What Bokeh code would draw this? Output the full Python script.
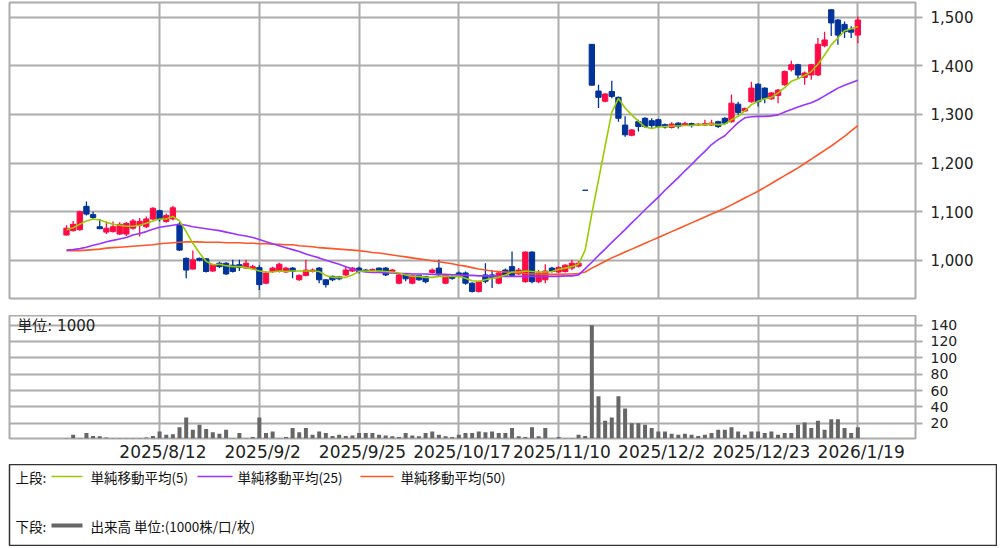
from bokeh.plotting import figure
from bokeh.layouts import column
from bokeh.models import Range1d, FixedTicker, NumeralTickFormatter, Label, ColumnDataSource
from bokeh.embed import file_html
from bokeh.resources import INLINE
from bokeh.core.properties import value

opens = [1052,1061,1063,1111,1094,1069,1058,1059,1054,1054,
 1066,1072,1069,1085,1102,1080,1085,1074,1004,982,
 1004,1003,978,994,994,990,991,984,983,985,
 953,977,977,976,984,960,969,977,984,960,
 967,966,970,978,984,980,979,984,984,977,
 953,970,953,969,967,975,984,953,967,974,
 974,953,936,970,970,953,980,987,972,956,
 1017,956,960,984,976,977,984,988,1144,1444,
 1348,1327,1347,1335,1278,1257,1285,1292,1287,1289,
 1279,1273,1282,1278,1281,1278,1278,1278,1285,1292,
 1285,1321,1307,1326,1362,1354,1332,1339,1361,1392,
 1402,1376,1381,1381,1441,1515,1494,1485,1474,1463]
highs = [1072,1081,1102,1121,1100,1085,1080,1080,1078,1079,
 1085,1087,1090,1109,1104,1096,1112,1078,1006,1020,
 1006,1004,993,997,996,1001,1001,1001,991,990,
 977,987,995,987,986,971,1001,983,986,961,
 969,968,987,986,987,982,983,985,986,982,
 972,974,970,970,968,983,1001,971,970,977,
 977,955,958,994,980,977,983,1018,984,1018,
 1018,980,992,987,988,992,1001,998,1144,1444,
 1361,1343,1369,1337,1296,1270,1289,1294,1292,1291,
 1281,1284,1284,1285,1283,1282,1289,1289,1287,1294,
 1341,1326,1314,1367,1364,1356,1346,1352,1390,1410,
 1404,1388,1404,1457,1470,1516,1496,1491,1481,1501]
lows = [1051,1059,1061,1092,1083,1064,1054,1057,1052,1050,
 1063,1049,1066,1083,1080,1077,1082,1019,963,981,
 998,975,976,984,970,975,978,982,981,939,
 951,974,975,974,963,958,967,975,953,944,
 957,959,968,976,973,976,977,977,968,975,
 951,957,951,958,953,973,968,951,960,965,
 950,934,934,953,943,951,968,967,970,954,
 953,953,953,975,974,975,980,985,1144,1360,
 1313,1325,1333,1285,1254,1255,1265,1272,1272,1272,
 1271,1271,1271,1276,1273,1276,1276,1276,1272,1280,
 1283,1299,1305,1324,1316,1323,1330,1323,1359,1388,
 1374,1361,1371,1379,1438,1461,1443,1457,1457,1446]
closes = [1066,1074,1100,1095,1088,1065,1066,1069,1074,1076,
 1081,1080,1085,1107,1085,1092,1108,1021,980,1001,
 1000,977,991,987,972,977,985,994,987,950,
 974,984,992,984,977,969,980,980,960,950,
 960,962,980,984,977,978,981,978,970,980,
 970,962,969,960,956,980,970,969,963,968,
 953,936,956,957,965,974,970,969,980,1017,
 956,974,978,977,985,990,994,994,1144,1360,
 1335,1342,1337,1292,1258,1268,1275,1275,1277,1275,
 1274,1280,1275,1281,1277,1280,1281,1282,1275,1282,
 1323,1304,1312,1354,1326,1333,1344,1350,1388,1402,
 1381,1385,1402,1444,1453,1488,1463,1470,1469,1494]
ma5 = [1063,1067,1074,1081,1085,1083,1078,1074,1072,1070,
 1070,1072,1076,1081,1085,1085,1090,1081,1059,1035,
 1015,998,991,992,989,987,987,985,982,978,
 976,976,978,977,978,978,978,978,977,969,
 965,965,965,970,977,978,978,978,977,976,
 974,970,967,967,965,965,967,967,967,967,
 963,958,957,960,963,965,970,976,976,978,
 977,976,976,977,981,984,987,992,1021,1096,
 1165,1235,1304,1333,1313,1299,1286,1274,1271,1274,
 1275,1276,1276,1277,1277,1279,1279,1280,1279,1280,
 1289,1296,1307,1320,1327,1332,1335,1344,1355,1368,
 1373,1380,1388,1403,1422,1443,1457,1472,1476,1480]
ma25 = [1021,1022,1024,1027,1031,1034,1038,1041,1044,1047,
 1052,1055,1059,1064,1068,1070,1072,1074,1072,1069,
 1067,1065,1063,1061,1058,1055,1052,1050,1047,1043,
 1038,1034,1030,1026,1022,1018,1013,1009,1005,1000,
 996,992,987,982,978,976,975,975,974,974,
 973,973,972,972,972,971,971,971,970,970,
 969,969,968,968,968,967,967,967,967,967,
 967,967,967,967,967,968,968,970,983,996,
 1010,1023,1037,1050,1063,1077,1090,1104,1117,1130,
 1144,1157,1170,1184,1197,1211,1224,1238,1248,1256,
 1270,1283,1293,1295,1296,1296,1297,1299,1305,1310,
 1315,1320,1324,1330,1338,1346,1354,1360,1365,1370]
ma50 = [1020,1020,1020,1021,1022,1023,1025,1026,1027,1028,
 1029,1030,1031,1032,1034,1035,1036,1037,1038,1038,
 1038,1037,1037,1037,1036,1036,1036,1035,1035,1034,
 1034,1033,1033,1032,1032,1030,1029,1028,1026,1025,
 1024,1023,1022,1021,1020,1018,1016,1015,1013,1011,
 1009,1007,1005,1003,1001,999,997,995,993,990,
 988,985,982,980,978,977,976,975,974,973,
 972,972,971,971,971,972,972,973,976,984,
 991,998,1005,1011,1017,1023,1029,1035,1041,1047,
 1053,1059,1065,1071,1077,1083,1089,1095,1101,1107,
 1114,1121,1128,1135,1142,1150,1158,1166,1174,1182,
 1190,1199,1208,1217,1226,1235,1245,1255,1266,1277]
volume = [2,6,2,8,4.5,4,2.5,2,2,2,
 2,2,2.5,4.5,10,6,6.5,15,27,12,
 18,13,9,7,12,2,8,2,3,27,
 8,10,2,3,14,9,14,6,10,8,
 4.5,6,4.5,5,8,8,8,6,5,4,
 3,8,5,4,8,10,6,4,3,6,
 8,8,10,9,10,8,8,14,4,3,
 15,4,14,2,3,2,2,6,4.5,140,
 53,23,27,53,38,20,20,18,14,10,
 10,7,6,7,6,4.5,6,8,12,12,
 15,10,6,10,10,8,10,6,8,8,
 18,21,14,23,12,25,25,14,8,15]

tick_idx = [14, 29, 44, 59, 74, 89, 104, 119]
tick_labels = ["2025/8/12", "2025/9/2", "2025/9/25", "2025/10/17",
               "2025/11/10", "2025/12/2", "2025/12/23", "2026/1/19"]
price_ticks = [1000, 1100, 1200, 1300, 1400, 1500]
vol_ticks = [20, 40, 60, 80, 100, 120, 140]

legend_upper = ["単純移動平均(5)", "単純移動平均(25)", "単純移動平均(50)"]
legend_lower = "出来高 単位:(1000株/口/枚)"

UP = "#ff0a46"
DOWN = "#003399"
GRID = "#acacac"
C5, C25, C50 = "#99cc00", "#9933ff", "#ff5527"
FONT = "DejaVu Sans"
JFONT = "Noto Sans CJK JP"
MIXFONT = "DejaVu Sans, Noto Sans CJK JP"

idx = list(range(len(closes)))
colors = [UP if c > o else DOWN for o, c in zip(opens, closes)]
src = ColumnDataSource(dict(
    x=idx, top=[max(o, c) for o, c in zip(opens, closes)],
    bottom=[min(o, c) for o, c in zip(opens, closes)],
    high=highs, low=lows, color=colors, vol=volume,
    ma5=ma5, ma25=ma25, ma50=ma50))

xr = Range1d(-8.57, 127.67)

def style_common(p):
    p.background_fill_color = "white"
    p.border_fill_color = "white"
    p.outline_line_color = GRID
    p.outline_line_width = 2
    for g in (p.xgrid, p.ygrid):
        g.grid_line_color = GRID
        g.grid_line_width = 2

def style_yaxis(a, size):
    a.axis_line_color = None
    a.major_tick_out = 7
    a.major_tick_in = 0
    a.major_tick_line_color = GRID
    a.major_tick_line_width = 2
    a.minor_tick_line_color = None
    a.major_label_standoff = 8
    a.major_label_text_font = FONT
    a.major_label_text_font_size = size
    a.major_label_text_color = "#222222"

# ---- price panel
p1 = figure(frame_width=906, frame_height=296, x_range=xr, y_range=Range1d(921.5, 1530),
            y_axis_location="right", x_axis_location=None,
            output_backend="svg", toolbar_location=None,
            min_border=0, min_border_left=9, min_border_right=83,
            min_border_top=2, min_border_bottom=17)
style_common(p1)
p1.xgrid.ticker = FixedTicker(ticks=tick_idx)
p1.ygrid.ticker = FixedTicker(ticks=price_ticks)
ya = p1.yaxis[0]
ya.ticker = FixedTicker(ticks=price_ticks)
ya.formatter = NumeralTickFormatter(format="0,0")
style_yaxis(ya, "15px")

p1.segment(x0="x", y0="low", x1="x", y1="high", color="color", line_width=1.3, source=src)
p1.vbar(x="x", width=0.8, top="top", bottom="bottom", fill_color="color",
        line_color="color", line_width=1, source=src)
p1.line("x", "ma50", color=C50, line_width=1.6, source=src)
p1.line("x", "ma25", color=C25, line_width=1.6, source=src)
p1.line("x", "ma5", color=C5, line_width=1.6, source=src)

# ---- volume panel
p2 = figure(frame_width=906, frame_height=123, x_range=xr, y_range=Range1d(1.3, 151.8),
            y_axis_location="right", output_backend="svg", toolbar_location=None,
            min_border=0, min_border_left=9, min_border_right=83,
            min_border_top=0)
style_common(p2)
p2.xgrid.ticker = FixedTicker(ticks=tick_idx)
p2.ygrid.ticker = FixedTicker(ticks=vol_ticks)
va = p2.yaxis[0]
va.ticker = FixedTicker(ticks=vol_ticks)
style_yaxis(va, "14px")
xa = p2.xaxis[0]
label_pos = [t + 0.5 for t in tick_idx]
xa.ticker = FixedTicker(ticks=label_pos)
xa.major_label_overrides = {t: l for t, l in zip(label_pos, tick_labels)}
xa.axis_line_color = None
xa.major_tick_out = 0
xa.major_tick_in = 0
xa.minor_tick_line_color = None
xa.major_label_standoff = 3
xa.major_label_text_font = FONT
xa.major_label_text_font_size = "17px"
xa.major_label_text_color = "#222222"
p2.vbar(x="x", width=0.6, top="vol", bottom=0, fill_color="#666666",
        line_color=None, source=src)
p2.add_layout(Label(x=-7.4, y=139.5, text="単位: 1000", text_baseline="middle",
                    text_font=MIXFONT, text_font_size="15px", text_color="#222222"))

# ---- legend panel
p3 = figure(frame_width=988, frame_height=82, x_range=Range1d(0, 988), y_range=Range1d(82, 0),
            x_axis_location=None, y_axis_location=None,
            output_backend="svg", toolbar_location=None,
            min_border=0, min_border_left=9)
p3.xgrid.visible = False
p3.ygrid.visible = False
p3.background_fill_color = "white"
p3.border_fill_color = "white"
p3.outline_line_color = "#333333"
p3.outline_line_width = 1.5

row1, row2 = 12, 61
tf = dict(text_font=value(JFONT), text_font_size="13.5px", text_baseline="middle",
          text_color="#111111")
p3.text(x=[6], y=[row1], text=["上段:"], **tf)
line_x = [(42, 73), (188, 223), (351, 384)]
text_x = [81, 228, 391]
for (a, b), tx, col, lab in zip(line_x, text_x, [C5, C25, C50], legend_upper):
    p3.line([a, b], [row1, row1], color=col, line_width=1.6)
    p3.text(x=[tx], y=[row1], text=[lab], **tf)
p3.text(x=[6], y=[row2], text=["下段:"], **tf)
p3.line([42, 73], [row2, row2], color="#666666", line_width=4)
p3.text(x=[81], y=[row2], text=[legend_lower], **tf)

layout = column(p1, p2, p3, spacing=0)
open("out.html", "w").write(file_html(layout, INLINE))
